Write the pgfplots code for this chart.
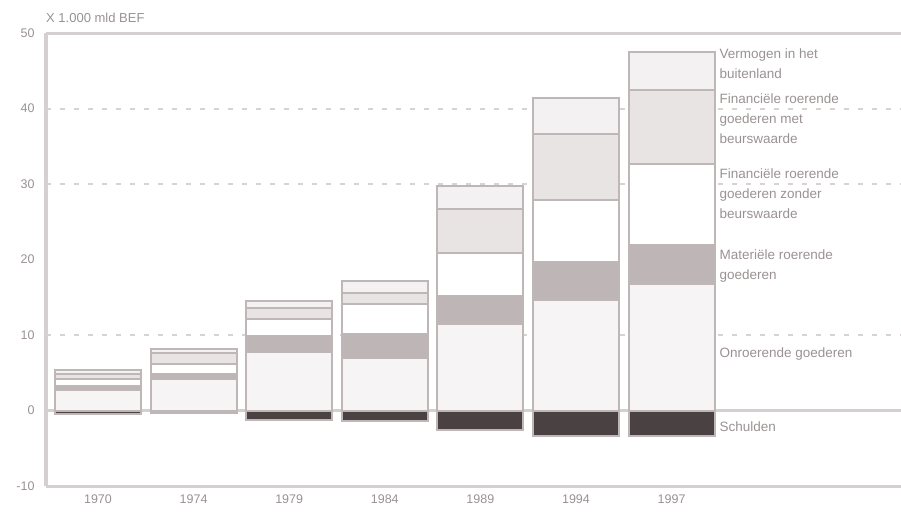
\documentclass[border=0pt]{standalone}
\usepackage{pgfplots}
\pgfplotsset{compat=1.18}
\usepackage{fontspec}
\setmainfont{Liberation Sans}
\definecolor{txt}{HTML}{9A9292}
\definecolor{axc}{HTML}{D6CFCF}
\definecolor{gridc}{HTML}{D8D2D2}
\definecolor{outl}{HTML}{BFB7B7}
\definecolor{cOnr}{HTML}{F6F4F4}
\definecolor{cMat}{HTML}{BEB6B6}
\definecolor{cZon}{HTML}{FFFFFF}
\definecolor{cMet}{HTML}{E8E4E4}
\definecolor{cBui}{HTML}{F3F1F1}
\definecolor{cSch}{HTML}{4A4242}
\newcommand\lbl{\fontsize{13.5}{20}\selectfont}
\begin{document}
\begin{tikzpicture}[x=1pt,y=1pt]
\useasboundingbox (-46,-28) rectangle (855,486);
\begin{axis}[at={(0,0)}, anchor=south west, scale only axis,
  width=855pt, height=453pt,
  xmin=-0.544, xmax=8.4, ymin=-10, ymax=50,
  axis line style={draw=none},
  ytick={-10,0,10,20,30,40,50},
  xtick={0,1,2,3,4,5,6},
  xticklabels={1970,1974,1979,1984,1989,1994,1997},
  major tick length=0pt,
  tick label style={font=\fontsize{12.5}{14}\selectfont, text=txt},
  yticklabel style={xshift=-8pt},
  xticklabel style={yshift=-5pt},
  /pgf/number format/assume math mode=true,
  ybar, bar width=0.9, bar shift=0pt,
  clip=false,
]
% frame and grid lines
\addplot[sharp plot, draw=axc, line width=3pt, forget plot] coordinates {(-0.544,50) (8.4,50)};
\addplot[sharp plot, draw=axc, line width=3pt, forget plot] coordinates {(-0.544,-10) (8.4,-10)};
\addplot[sharp plot, draw=axc, line width=3.5pt, forget plot] coordinates {(-0.544,-10) (-0.544,50)};
\addplot[sharp plot, draw=axc, line width=3pt, forget plot] coordinates {(-0.544,0) (8.4,0)};
\addplot[sharp plot, draw=gridc, line width=2pt, dash pattern=on 5pt off 9pt, forget plot] coordinates {(-0.544,10) (8.4,10)};
\addplot[sharp plot, draw=gridc, line width=2pt, dash pattern=on 5pt off 9pt, forget plot] coordinates {(-0.544,30) (8.4,30)};
\addplot[sharp plot, draw=gridc, line width=2pt, dash pattern=on 5pt off 9pt, forget plot] coordinates {(-0.544,40) (8.4,40)};
% cumulative tops of the stacked segments
% Vermogen in het buitenland (total)
\addplot[fill=cBui, draw=outl, line width=2pt] coordinates {(0,5.4) (1,8.1) (2,14.5) (3,17.1) (4,29.7) (5,41.4) (6,47.5)};
% Financiele roerende goederen met beurswaarde
\addplot[fill=cMet, draw=outl, line width=2pt] coordinates {(0,4.8) (1,7.6) (2,13.6) (3,15.6) (4,26.7) (5,36.6) (6,42.5)};
% Financiele roerende goederen zonder beurswaarde
\addplot[fill=cZon, draw=outl, line width=2pt] coordinates {(0,4.2) (1,6.2) (2,12.1) (3,14.1) (4,20.9) (5,27.9) (6,32.6)};
% Materiele roerende goederen
\addplot[fill=cMat, draw=outl, line width=2pt] coordinates {(0,3.3) (1,4.8) (2,9.9) (3,10.1) (4,15.1) (5,19.7) (6,21.9)};
% Onroerende goederen
\addplot[fill=cOnr, draw=outl, line width=2pt] coordinates {(0,2.7) (1,4.2) (2,7.7) (3,7.0) (4,11.5) (5,14.7) (6,16.8)};
% Schulden
\addplot[fill=cSch, draw=outl, line width=2pt] coordinates {(0,-0.4) (1,-0.3) (2,-1.3) (3,-1.4) (4,-2.6) (5,-3.4) (6,-3.4)};
% labels
\node[anchor=south west, inner sep=0pt, font=\fontsize{13}{15}\selectfont, text=txt] at (rel axis cs:0,1) [yshift=10pt] {X 1.000 mld BEF};
\node[anchor=north west, inner sep=0pt, align=left, font=\lbl, text=txt] at (axis cs:6.5,47.9) {Vermogen in het\\buitenland};
\node[anchor=north west, inner sep=0pt, align=left, font=\lbl, text=txt] at (axis cs:6.5,42.0) {Financiële roerende\\goederen met\\beurswaarde};
\node[anchor=north west, inner sep=0pt, align=left, font=\lbl, text=txt] at (axis cs:6.5,32.0) {Financiële roerende\\goederen zonder\\beurswaarde};
\node[anchor=north west, inner sep=0pt, align=left, font=\lbl, text=txt] at (axis cs:6.5,21.3) {Materiële roerende\\goederen};
\node[anchor=north west, inner sep=0pt, align=left, font=\lbl, text=txt] at (axis cs:6.5,8.4) {Onroerende goederen};
\node[anchor=north west, inner sep=0pt, align=left, font=\lbl, text=txt] at (axis cs:6.5,-1.5) {Schulden};
\end{axis}
\end{tikzpicture}
\end{document}
